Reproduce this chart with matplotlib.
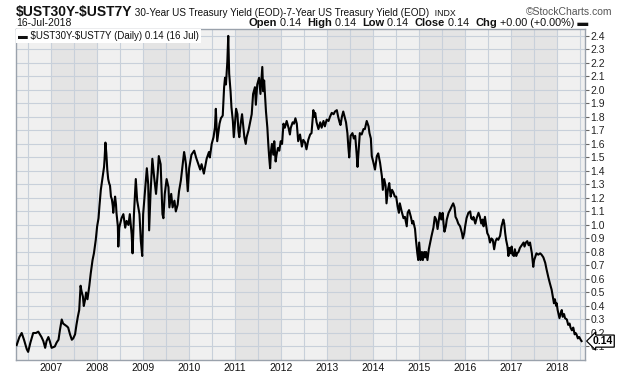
import numpy as np
import matplotlib
matplotlib.use("Agg")
import matplotlib.pyplot as plt
from matplotlib.transforms import blended_transform_factory

# decimal year / spread (30y - 7y yield, %)
dates = [
    2006.26, 2006.32, 2006.37, 2006.42, 2006.48, 2006.51, 2006.56, 2006.62, 2006.68, 2006.73,
    2006.80, 2006.84, 2006.88, 2006.91, 2006.95, 2006.98, 2007.02, 2007.09, 2007.13, 2007.17,
    2007.20, 2007.24, 2007.27, 2007.31, 2007.35, 2007.38, 2007.42, 2007.46, 2007.49, 2007.53,
    2007.56, 2007.59, 2007.62, 2007.65, 2007.67, 2007.70, 2007.72, 2007.75, 2007.77, 2007.80,
    2007.82, 2007.84, 2007.87, 2007.89, 2007.91, 2007.94, 2007.96, 2007.98, 2008.01, 2008.04,
    2008.06, 2008.09, 2008.11, 2008.13, 2008.16, 2008.17, 2008.19, 2008.21, 2008.23, 2008.25,
    2008.27, 2008.29, 2008.31, 2008.33, 2008.35, 2008.36, 2008.38, 2008.40, 2008.42, 2008.43,
    2008.46, 2008.47, 2008.49, 2008.54, 2008.58, 2008.62, 2008.65, 2008.69, 2008.72, 2008.76,
    2008.78, 2008.81, 2008.85, 2008.88, 2008.93, 2008.96, 2008.99, 2009.01, 2009.05, 2009.09,
    2009.12, 2009.14, 2009.17, 2009.21, 2009.25, 2009.29, 2009.33, 2009.35, 2009.39, 2009.43,
    2009.45, 2009.48, 2009.52, 2009.56, 2009.58, 2009.62, 2009.65, 2009.69, 2009.72, 2009.76,
    2009.79, 2009.83, 2009.86, 2009.90, 2009.92, 2009.94, 2009.98, 2010.01, 2010.06, 2010.12,
    2010.16, 2010.21, 2010.25, 2010.28, 2010.33, 2010.39, 2010.44, 2010.46, 2010.50, 2010.54,
    2010.57, 2010.59, 2010.62, 2010.67, 2010.70, 2010.74, 2010.77, 2010.79, 2010.81, 2010.84,
    2010.86, 2010.88, 2010.91, 2010.93, 2010.96, 2010.98, 2011.01, 2011.03, 2011.06, 2011.08,
    2011.10, 2011.13, 2011.16, 2011.19, 2011.21, 2011.24, 2011.26, 2011.30, 2011.33, 2011.37,
    2011.40, 2011.44, 2011.46, 2011.49, 2011.53, 2011.56, 2011.60, 2011.62, 2011.64, 2011.68,
    2011.71, 2011.73, 2011.75, 2011.77, 2011.79, 2011.81, 2011.84, 2011.86, 2011.89, 2011.91,
    2011.94, 2011.97, 2012.00, 2012.03, 2012.06, 2012.09, 2012.13, 2012.17, 2012.20, 2012.22,
    2012.26, 2012.29, 2012.32, 2012.35, 2012.38, 2012.42, 2012.46, 2012.49, 2012.53, 2012.56,
    2012.60, 2012.64, 2012.67, 2012.71, 2012.73, 2012.75, 2012.78, 2012.82, 2012.86, 2012.89,
    2012.93, 2012.96, 2013.00, 2013.04, 2013.07, 2013.11, 2013.15, 2013.18, 2013.22, 2013.25,
    2013.28, 2013.30, 2013.33, 2013.36, 2013.39, 2013.42, 2013.45, 2013.47, 2013.49, 2013.52,
    2013.56, 2013.59, 2013.62, 2013.65, 2013.67, 2013.70, 2013.72, 2013.76, 2013.80, 2013.83,
    2013.87, 2013.91, 2013.93, 2013.96, 2013.98, 2014.01, 2014.05, 2014.09, 2014.12, 2014.16,
    2014.20, 2014.22, 2014.25, 2014.28, 2014.30, 2014.33, 2014.36, 2014.39, 2014.42, 2014.45,
    2014.48, 2014.51, 2014.54, 2014.57, 2014.59, 2014.63, 2014.67, 2014.70, 2014.74, 2014.76,
    2014.79, 2014.83, 2014.86, 2014.88, 2014.92, 2014.94, 2014.97, 2014.99, 2015.01, 2015.04,
    2015.07, 2015.09, 2015.12, 2015.14, 2015.16, 2015.19, 2015.22, 2015.25, 2015.28, 2015.32,
    2015.35, 2015.38, 2015.41, 2015.44, 2015.46, 2015.49, 2015.52, 2015.54, 2015.56, 2015.59,
    2015.61, 2015.65, 2015.68, 2015.72, 2015.75, 2015.78, 2015.80, 2015.83, 2015.86, 2015.90,
    2015.94, 2015.96, 2015.99, 2016.01, 2016.04, 2016.08, 2016.12, 2016.14, 2016.17, 2016.19,
    2016.23, 2016.26, 2016.30, 2016.33, 2016.36, 2016.39, 2016.41, 2016.44, 2016.46, 2016.49,
    2016.52, 2016.55, 2016.58, 2016.61, 2016.64, 2016.67, 2016.70, 2016.73, 2016.77, 2016.80,
    2016.84, 2016.86, 2016.88, 2016.90, 2016.93, 2016.95, 2016.97, 2017.00, 2017.02, 2017.04,
    2017.07, 2017.09, 2017.12, 2017.14, 2017.17, 2017.20, 2017.24, 2017.28, 2017.30, 2017.33,
    2017.36, 2017.39, 2017.42, 2017.44, 2017.46, 2017.49, 2017.51, 2017.54, 2017.56, 2017.60,
    2017.64, 2017.67, 2017.71, 2017.73, 2017.75, 2017.78, 2017.82, 2017.85, 2017.89, 2017.91,
    2017.94, 2017.96, 2017.99, 2018.00, 2018.02, 2018.04, 2018.06, 2018.09, 2018.11, 2018.13,
    2018.16, 2018.18, 2018.22, 2018.25, 2018.28, 2018.30, 2018.33, 2018.36, 2018.39, 2018.41,
    2018.43, 2018.46, 2018.49, 2018.52, 2018.54,
]
spread = [
    0.11, 0.17, 0.20, 0.15, 0.08, 0.06, 0.13, 0.20, 0.20, 0.21,
    0.17, 0.14, 0.09, 0.14, 0.17, 0.14, 0.09, 0.10, 0.13, 0.15,
    0.22, 0.30, 0.27, 0.26, 0.25, 0.24, 0.19, 0.15, 0.16, 0.19,
    0.26, 0.32, 0.37, 0.55, 0.51, 0.47, 0.40, 0.45, 0.50, 0.45,
    0.50, 0.55, 0.64, 0.69, 0.74, 0.79, 0.84, 0.89, 0.99, 1.05,
    1.14, 1.26, 1.31, 1.36, 1.43, 1.48, 1.61, 1.53, 1.41, 1.34,
    1.31, 1.29, 1.21, 1.19, 1.14, 1.09, 1.16, 1.21, 1.15, 1.09,
    0.99, 0.84, 0.98, 1.05, 1.08, 0.98, 1.03, 1.00, 1.08, 0.93,
    0.79, 1.08, 1.34, 1.18, 1.08, 0.88, 0.77, 1.08, 1.25, 1.42,
    1.30, 0.96, 1.23, 1.49, 1.35, 1.23, 1.40, 1.51, 1.45, 1.08,
    1.05, 1.23, 1.34, 1.28, 1.13, 1.23, 1.13, 1.18, 1.10, 1.15,
    1.25, 1.33, 1.42, 1.54, 1.50, 1.45, 1.25, 1.42, 1.52, 1.55,
    1.50, 1.45, 1.41, 1.45, 1.38, 1.49, 1.54, 1.50, 1.60, 1.65,
    1.72, 1.86, 1.62, 1.75, 1.79, 1.81, 2.02, 2.09, 2.04, 2.21,
    2.40, 2.12, 1.99, 1.87, 1.77, 1.65, 1.77, 1.86, 1.82, 1.70,
    1.65, 1.75, 1.82, 1.72, 1.65, 1.60, 1.65, 1.70, 1.75, 1.82,
    1.97, 2.02, 1.89, 2.04, 2.09, 1.97, 2.17, 1.99, 2.07, 1.84,
    1.72, 1.60, 1.50, 1.42, 1.55, 1.60, 1.52, 1.62, 1.47, 1.52,
    1.57, 1.55, 1.62, 1.60, 1.75, 1.72, 1.77, 1.72, 1.67, 1.72,
    1.76, 1.75, 1.79, 1.75, 1.62, 1.67, 1.58, 1.63, 1.61, 1.56,
    1.63, 1.67, 1.68, 1.85, 1.80, 1.83, 1.76, 1.71, 1.76, 1.72,
    1.77, 1.73, 1.78, 1.77, 1.80, 1.83, 1.82, 1.84, 1.85, 1.80,
    1.76, 1.74, 1.80, 1.84, 1.80, 1.76, 1.68, 1.58, 1.50, 1.66,
    1.68, 1.64, 1.66, 1.53, 1.43, 1.58, 1.68, 1.67, 1.71, 1.71,
    1.77, 1.73, 1.68, 1.64, 1.51, 1.47, 1.41, 1.51, 1.53, 1.46,
    1.36, 1.26, 1.34, 1.29, 1.16, 1.26, 1.31, 1.21, 1.26, 1.24,
    1.21, 1.21, 1.14, 1.09, 1.16, 1.10, 1.05, 1.06, 0.99, 1.09,
    1.11, 1.06, 1.01, 1.03, 0.97, 0.89, 0.79, 0.74, 0.87, 0.74,
    0.80, 0.74, 0.80, 0.76, 0.80, 0.74, 0.82, 0.87, 0.92, 0.98,
    1.06, 1.04, 0.97, 1.04, 1.09, 1.04, 1.09, 1.01, 0.95, 0.99,
    1.04, 1.09, 1.11, 1.14, 1.16, 1.13, 1.06, 1.04, 1.01, 0.99,
    0.94, 0.90, 0.94, 0.99, 1.05, 1.09, 1.10, 1.05, 1.04, 1.06,
    1.01, 1.05, 1.09, 1.06, 1.01, 1.04, 0.99, 1.06, 1.01, 0.94,
    0.92, 0.87, 0.90, 0.89, 0.82, 0.88, 0.90, 0.89, 0.92, 0.99,
    1.04, 1.01, 0.94, 0.89, 0.84, 0.77, 0.83, 0.79, 0.84, 0.78,
    0.77, 0.82, 0.77, 0.79, 0.80, 0.83, 0.85, 0.87, 0.84, 0.87,
    0.88, 0.85, 0.87, 0.83, 0.79, 0.69, 0.74, 0.77, 0.79, 0.78,
    0.79, 0.78, 0.76, 0.74, 0.72, 0.67, 0.61, 0.57, 0.52, 0.48,
    0.42, 0.45, 0.40, 0.42, 0.37, 0.34, 0.31, 0.35, 0.37, 0.32,
    0.34, 0.31, 0.30, 0.26, 0.27, 0.24, 0.22, 0.24, 0.19, 0.20,
    0.19, 0.16, 0.17, 0.15, 0.14,
]
year_labels = [str(y) for y in range(2007, 2019)]
y_ticks = [round(0.1 * k, 1) for k in range(1, 25)]
last_value = 0.14

W, H = 620, 376
FONT = ['Liberation Sans', 'DejaVu Sans']
plt.rcParams['font.family'] = FONT
INK = '#111111'

fig = plt.figure(figsize=(W / 100, H / 100), dpi=100)
L, R, T, B = 16, 585, 29, 360
ax = fig.add_axes([L / W, 1 - B / H, (R - L) / W, (B - T) / H])
ax.set_xlim(2006.246, 2018.615)
ax.set_ylim(0.0, 2.451)

# alternating year bands
ax.set_facecolor('#f0f0f0')
for yr in range(2007, 2019, 2):
    ax.axvspan(yr, yr + 1, color='#e4e4e4', lw=0, zorder=0)

years = list(range(2007, 2019))
ax.set_xticks(years)
ax.set_xticklabels(year_labels)
ax.set_xticks([y + 0.5 for y in range(2006, 2019)], minor=True)
ax.set_yticks(y_ticks)
ax.set_yticklabels(['%.1f' % v for v in y_ticks])
ax.yaxis.tick_right()
ax.grid(True, which='both', color='#c8d0da', lw=0.8, zorder=1)
ax.set_axisbelow(True)
ax.tick_params(axis='x', which='both', length=0, pad=2, labelsize=7.5, labelcolor=INK)
ax.tick_params(axis='y', length=3, width=0.8, pad=1, labelsize=7.5, color='#666666',
               labelcolor='#222222')
for s in ax.spines.values():
    s.set_color('#9aa2ac')
    s.set_linewidth(1.0)

ax.plot(dates, spread, color='black', lw=1.5, zorder=3)

# last value marker on the right axis
tr = blended_transform_factory(ax.transAxes, ax.transData)
ax.text(1.014, last_value, '%.2f' % last_value, transform=tr, ha='left', va='center',
        fontsize=7.5, fontweight='bold', zorder=6, clip_on=False,
        bbox=dict(boxstyle='larrow,pad=0.1', fc='white', ec='black', lw=0.9))

# legend in the top-left corner
ax.text(0.004, 0.995, '\u25ac $UST30Y-$UST7Y (Daily) 0.14 (16 Jul)', transform=ax.transAxes,
        ha='left', va='top', fontsize=7, color=INK, zorder=6, parse_math=False,
        bbox=dict(boxstyle='square,pad=0.2', fc='white', ec='none'))

# header
renderer = fig.canvas.get_renderer()


def put_run(x_px, y_px, pieces, align='left'):
    made = []
    x = x_px
    for txt, size, weight in pieces:
        t = fig.text(x / W, 1 - y_px / H, txt, fontsize=size, fontweight=weight,
                     color=INK, ha='left', va='baseline', parse_math=False)
        made.append((t, x))
        x += t.get_window_extent(renderer).width
    if align == 'right':
        total = x - x_px
        for t, xx in made:
            t.set_x((xx - total) / W)


put_run(16, 16, [('$UST30Y-$UST7Y', 10, 'bold'),
                 (' 30-Year US Treasury Yield (EOD)-7-Year US Treasury Yield (EOD)', 7.2, 'normal'),
                 ('  INDX', 6.3, 'normal')])
fig.text(612 / W, 1 - 15 / H, '\u00a9StockCharts.com', fontsize=7.5, color='#555555',
         ha='right', va='baseline')
fig.text(16 / W, 1 - 26 / H, '16-Jul-2018', fontsize=7.5, color=INK, ha='left', va='baseline')
put_run(588, 26, [('Open', 8, 'bold'), (' 0.14  ', 7.8, 'normal'),
                  ('High', 8, 'bold'), (' 0.14  ', 7.8, 'normal'),
                  ('Low', 8, 'bold'), (' 0.14  ', 7.8, 'normal'),
                  ('Close', 8, 'bold'), (' 0.14  ', 7.8, 'normal'),
                  ('Chg', 8, 'bold'), (' +0.00 (+0.00%) \u25ac', 7.8, 'normal')], align='right')

fig.savefig('out.png', dpi=100)
